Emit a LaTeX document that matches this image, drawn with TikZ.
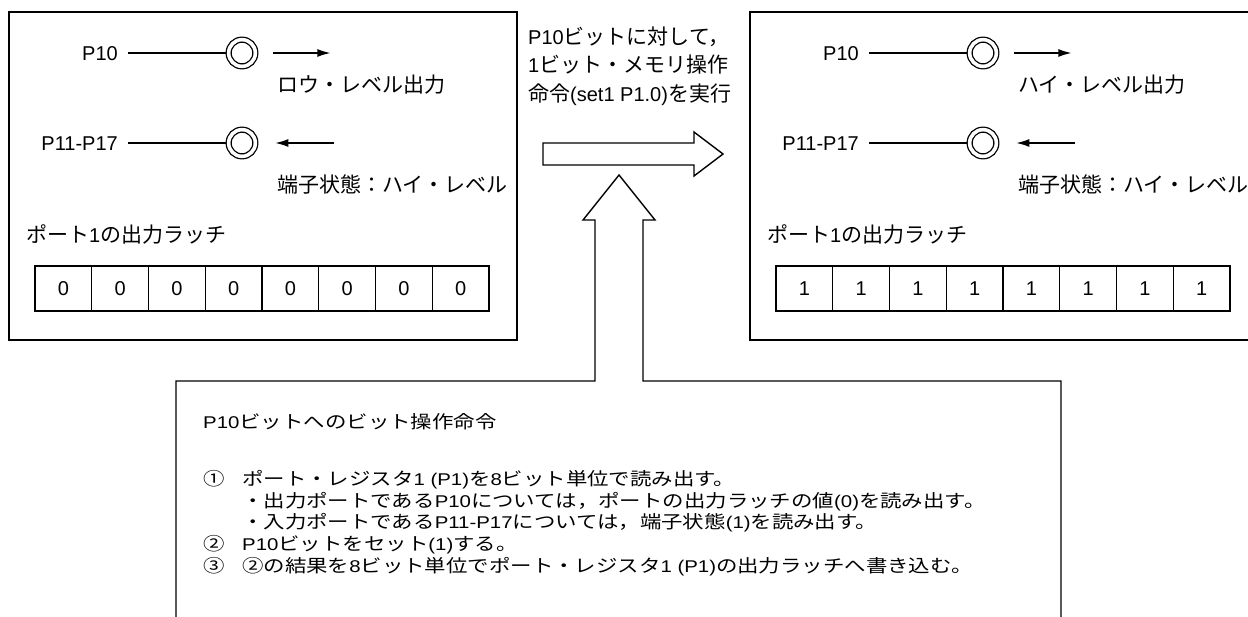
\documentclass[tikz,border=0pt]{standalone}
\usepackage{fontspec}
\setmainfont{Liberation Sans}
\newfontfamily\jp[Scale=1.05]{Noto Sans CJK JP}
\usetikzlibrary{arrows.meta}
\newcommand{\squat}[1]{\scalebox{1.02}[0.85]{#1}}

\tikzset{
  txt/.style={anchor=west, inner sep=0pt, text height=16pt, text depth=2pt,
    font=\fontsize{20}{24}\selectfont},
  frame/.style={draw, line width=1.4pt},
  cell/.style={draw, line width=1.2pt, minimum width=56.75pt, minimum height=45pt,
    inner sep=0pt, font=\fontsize{20}{24}\selectfont},
  terminal/.style={circle, draw, line width=1.3pt, double, double distance=3.6pt,
    minimum size=26.7pt, inner sep=0pt, outer sep=3pt},
  wire/.style={line width=2.6pt, shorten <=10pt},
  flow/.style={line width=1.3pt, -{Latex[length=13pt,width=8pt]}},
}

\begin{document}
\begin{tikzpicture}[x=1pt, y=-1pt]
  \useasboundingbox (0,0) rectangle (1248,616);
  \clip (0,0) rectangle (1248,616);

  % before / after panels
  \foreach \px/\nm/\bit/\lvl in {0/l/0/ロウ, 741/r/1/ハイ}{
    \draw[frame] (\px+9,12) rectangle (\px+517,340);
    \node[txt, anchor=east] (\nm-p10) at (\px+118,53) {P10};
    \node[terminal] (\nm-t10) at (\px+242,53) {};
    \draw[wire] (\nm-p10) -- (\nm-t10);
    \draw[flow] ([xshift=15pt]\nm-t10.east) -- ++(57,0);
    \node[txt] (\nm-out) at (\px+277,85) {{\jp \lvl・レベル出力}};
    \node[txt, anchor=east] (\nm-p11) at (\px+118,143) {P11-P17};
    \node[terminal] (\nm-t11) at (\px+242,143) {};
    \draw[wire] (\nm-p11) -- (\nm-t11);
    \draw[flow] ([xshift=76pt]\nm-t11.east) -- ([xshift=17pt]\nm-t11.east);
    \node[txt] (\nm-pin) at (\px+277,185) {{\jp 端子状態：ハイ・レベル}};
    \node[txt] (\nm-latch) at (\px+26,235) {{\jp ポート}1{\jp の出力ラッチ}};
    \foreach \i in {0,...,7}
      \node[cell] (\nm-b\i) at (\px+63.375+56.75*\i, 288.5) {\bit};
  }

  % instruction
  \node[anchor=west, align=left, inner sep=0pt, font=\fontsize{20}{28.5}\selectfont]
    (cmd) at (528,66) {P10{\jp ビットに対して，}\\1{\jp ビット・メモリ操作}\\{\jp 命令}(set1 P1.0){\jp を実行}};
  \draw[frame] (543,143) -- (694,143) -- (694,132) -- (723,154) -- (694,176)
    -- (694,165) -- (543,165) -- cycle;

  % explanation box with its arrow
  \draw[frame] (176,630) -- (176,381) -- (595,381) -- (595,220) -- (583,220)
    -- (619,175) -- (655,220) -- (643,220) -- (643,381) -- (1061,381) -- (1061,630);
  \node[txt] (title) at (203,421) {\squat{P10{\jp ビットへのビット操作命令}}};
  \node[txt] (n1) at (203,478) {\squat{\jp ①}};
  \node[txt] (s1) at (242,478) {\squat{{\jp ポート・レジスタ}1 (P1){\jp を}8{\jp ビット単位で読み出す。}}};
  \node[txt] (s1a) at (242,500) {\squat{{\jp ・出力ポートである}P10{\jp については，ポートの出力ラッチの値}(0){\jp を読み出す。}}};
  \node[txt] (s1b) at (242,521) {\squat{{\jp ・入力ポートである}P11-P17{\jp については，端子状態}(1){\jp を読み出す。}}};
  \node[txt] (n2) at (203,543) {\squat{\jp ②}};
  \node[txt] (s2) at (242,543) {\squat{P10{\jp ビットをセット}(1){\jp する。}}};
  \node[txt] (n3) at (203,565) {\squat{\jp ③}};
  \node[txt] (s3) at (242,565) {\squat{{\jp ②の結果を}8{\jp ビット単位でポート・レジスタ}1 (P1){\jp の出力ラッチへ書き込む。}}};
\end{tikzpicture}
\end{document}
